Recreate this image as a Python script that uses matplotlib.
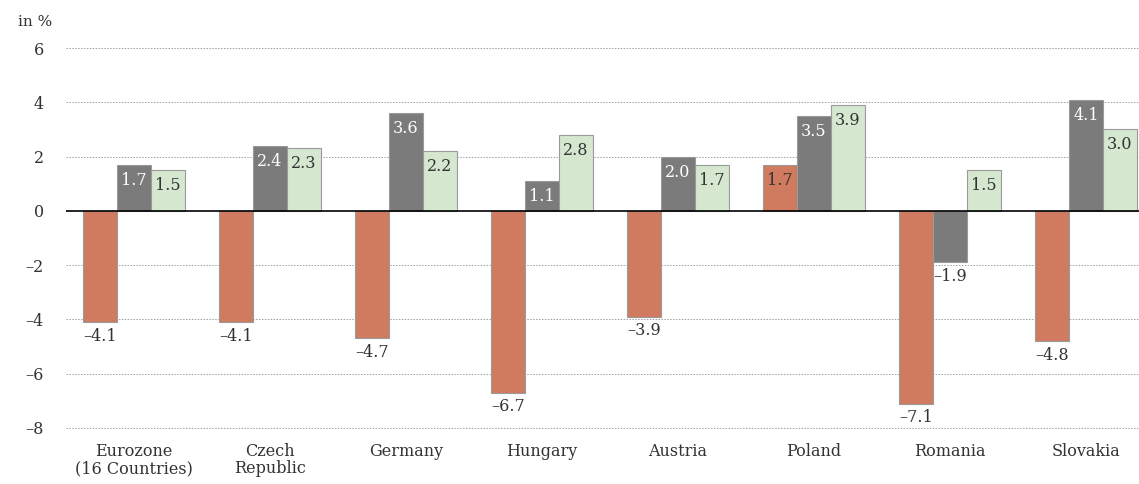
import numpy as np
import matplotlib.pyplot as plt

countries = ['Eurozone\n(16 Countries)', 'Czech\nRepublic', 'Germany', 'Hungary',
             'Austria', 'Poland', 'Romania', 'Slovakia']
s_red = [-4.1, -4.1, -4.7, -6.7, -3.9, 1.7, -7.1, -4.8]
s_gray = [1.7, 2.4, 3.6, 1.1, 2.0, 3.5, -1.9, 4.1]
s_green = [1.5, 2.3, 2.2, 2.8, 1.7, 3.9, 1.5, 3.0]
yticks = [6, 4, 2, 0, -2, -4, -6, -8]

plt.rcParams['font.family'] = ['DejaVu Serif']

fig = plt.figure(figsize=(11.39, 4.84), dpi=100)
ax = fig.add_axes([66 / 1139, 0.1045, 1 - 66 / 1139, 0.8075])

x = np.arange(len(countries))
w = 0.25
series = [(s_red, '#d07a5f', '#333333'), (s_gray, '#7b7b7b', 'white'),
          (s_green, '#d5e8cf', '#333333')]

for k, (vals, col, txtcol) in enumerate(series):
    xs = x + (k - 1) * w
    ax.bar(xs, vals, width=w, color=col, edgecolor='#9a9a9a', linewidth=0.8, zorder=3)
    for xi, v in zip(xs, vals):
        lab = f'{v:.1f}'.replace('-', '\u2013')
        if v >= 0:
            ax.annotate(lab, (xi, v), xytext=(0, -5), textcoords='offset points',
                        ha='center', va='top', fontsize=11.5, color=txtcol, zorder=4)
        else:
            ax.annotate(lab, (xi, v), xytext=(0, -4), textcoords='offset points',
                        ha='center', va='top', fontsize=11.5, color='#333333', zorder=2,
                        bbox=dict(facecolor='white', edgecolor='none', pad=0.5))

ax.set_xlim(-0.5, 7.39)
ax.set_ylim(-8.2, 6.2)
ax.set_yticks(yticks)
ax.set_yticklabels([str(t).replace('-', '\u2013') for t in yticks], fontsize=11.5, color='#333333')
ax.set_xticks(x)
ax.set_xticklabels(countries, fontsize=11.5, color='#333333', linespacing=1.0)
ax.tick_params(length=0)
ax.tick_params(axis='y', pad=16)
ax.tick_params(axis='x', pad=7)
for s in ax.spines.values():
    s.set_visible(False)
for t in yticks:
    if t != 0:
        ax.axhline(t, color='#a0a0a0', linestyle=(0, (1.5, 1.5)), linewidth=0.7, zorder=1)
ax.axhline(0, color='black', linewidth=1.2, zorder=5)

fig.text(18 / 1139, 1 - 22 / 484, 'in %', fontsize=11, color='#333333', va='center')

fig.savefig('out.png', dpi=100)
